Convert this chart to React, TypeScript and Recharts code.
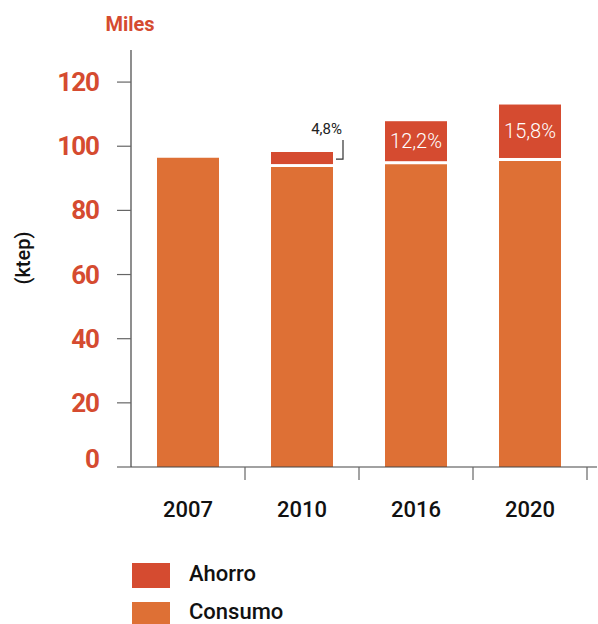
import { Bar, BarChart, LabelList, XAxis, YAxis } from "recharts";

const years = ["2007", "2010", "2016", "2020"];
const consumo = [96.4, 93.5, 94.4, 95.4];
const ahorro = [0, 4.7, 13.4, 17.6];
const pctLabels = ["", "4,8%", "12,2%", "15,8%"];
const yTicks = [0, 20, 40, 60, 80, 100, 120];

const RED = "#d54b30";
const ORANGE = "#de7035";
const FONT = "Roboto, 'Noto Sans', sans-serif";
const HALF_BAND = 57;

const data = years.map((year, i) => ({
  year,
  consumo: consumo[i],
  ahorro: ahorro[i],
  pct: pctLabels[i],
}));

function AhorroShape(props: any) {
  const { x, y, width, height, fill } = props;
  if (!height || height <= 3) return null;
  return <rect x={x} y={y} width={width} height={height - 3} fill={fill} />;
}

function PctLabel(props: any) {
  const { x, y, width, height, value } = props;
  if (!value) return null;
  const h = height - 3;
  if (h < 24) {
    const right = x + width + 10;
    const midY = y + h / 2;
    return (
      <g>
        <text x={right - 1} y={y - 18} textAnchor="end" fontSize={15} fill="#222" fontFamily={FONT}>
          {value}
        </text>
        <polyline
          points={`${right},${y - 12} ${right},${midY + 1} ${right - 7},${midY + 1}`}
          fill="none"
          stroke="#333"
          strokeWidth={1.2}
        />
      </g>
    );
  }
  return (
    <text
      x={x + width / 2}
      y={y + h / 2}
      textAnchor="middle"
      dominantBaseline="central"
      fontSize={20}
      fontWeight={300}
      fill="#fff"
      fontFamily={FONT}
    >
      {value}
    </text>
  );
}

function ValueTick(props: any) {
  const { x, y, payload } = props;
  // the zero label sits a little above its tick, clear of the x axis
  const shift = payload.value === 0 ? -8 : 0;
  return (
    <text
      x={x}
      y={y + shift}
      textAnchor="end"
      dominantBaseline="central"
      fontSize={26}
      fontWeight={700}
      letterSpacing={-1}
      fill={RED}
      fontFamily={FONT}
    >
      {payload.value}
    </text>
  );
}

function YearTick(props: any) {
  const { x, y, payload } = props;
  return (
    <g>
      <line x1={x + HALF_BAND} y1={y} x2={x + HALF_BAND} y2={y + 13} stroke="#666" strokeWidth={1.2} />
      <text x={x} y={y + 50} textAnchor="middle" fontSize={22} fontWeight={500} fill="#111" fontFamily={FONT}>
        {payload.value}
      </text>
    </g>
  );
}

function AxisTitles() {
  return (
    <g>
      <text
        x={23}
        y={258}
        transform="rotate(-90, 23, 258)"
        textAnchor="middle"
        dominantBaseline="central"
        fontSize={20}
        fontWeight={500}
        fill="#111"
        fontFamily={FONT}
      >
        (ktep)
      </text>
      <text x={130} y={31} textAnchor="middle" fontSize={20} fontWeight={700} fill={RED} fontFamily={FONT}>
        Miles
      </text>
    </g>
  );
}

const legendItems = [
  { name: "Ahorro", color: RED },
  { name: "Consumo", color: ORANGE },
];

export default function App() {
  return (
    <div style={{ position: "absolute", left: 0, top: 0, width: 598, height: 624, background: "#fff", overflow: "hidden" }}>
      <BarChart
        width={598}
        height={624}
        data={data}
        margin={{ top: 50, right: 1, left: 0, bottom: 97 }}
        barSize={62}
      >
        <XAxis
          dataKey="year"
          height={60}
          padding={{ left: 0, right: 10 }}
          axisLine={{ stroke: "#444", strokeWidth: 1.2 }}
          tickLine={false}
          tickSize={0}
          tickMargin={0}
          tick={<YearTick />}
          interval={0}
        />
        <YAxis
          width={131}
          domain={[0, 130]}
          ticks={yTicks}
          axisLine={{ stroke: "#444", strokeWidth: 1.2 }}
          tickLine={{ stroke: "#666", strokeWidth: 1.2 }}
          tickSize={14}
          tickMargin={18}
          tick={<ValueTick />}
          label={<AxisTitles />}
        />
        <Bar dataKey="consumo" stackId="a" fill={ORANGE} isAnimationActive={false} />
        <Bar dataKey="ahorro" stackId="a" fill={RED} shape={<AhorroShape />} isAnimationActive={false}>
          <LabelList dataKey="pct" content={<PctLabel />} />
        </Bar>
      </BarChart>
      {legendItems.map((item, i) => (
        <div key={item.name}>
          <span
            style={{
              position: "absolute",
              left: 132,
              top: 563 + i * 39,
              width: 38,
              height: Math.min(25, 624 - (563 + i * 39)),
              background: item.color,
            }}
          />
          <span
            style={{
              position: "absolute",
              left: 189,
              top: 564 + i * 38,
              lineHeight: "20px",
              fontFamily: FONT,
              fontSize: 22,
              fontWeight: 500,
              color: "#111",
            }}
          >
            {item.name}
          </span>
        </div>
      ))}
    </div>
  );
}
